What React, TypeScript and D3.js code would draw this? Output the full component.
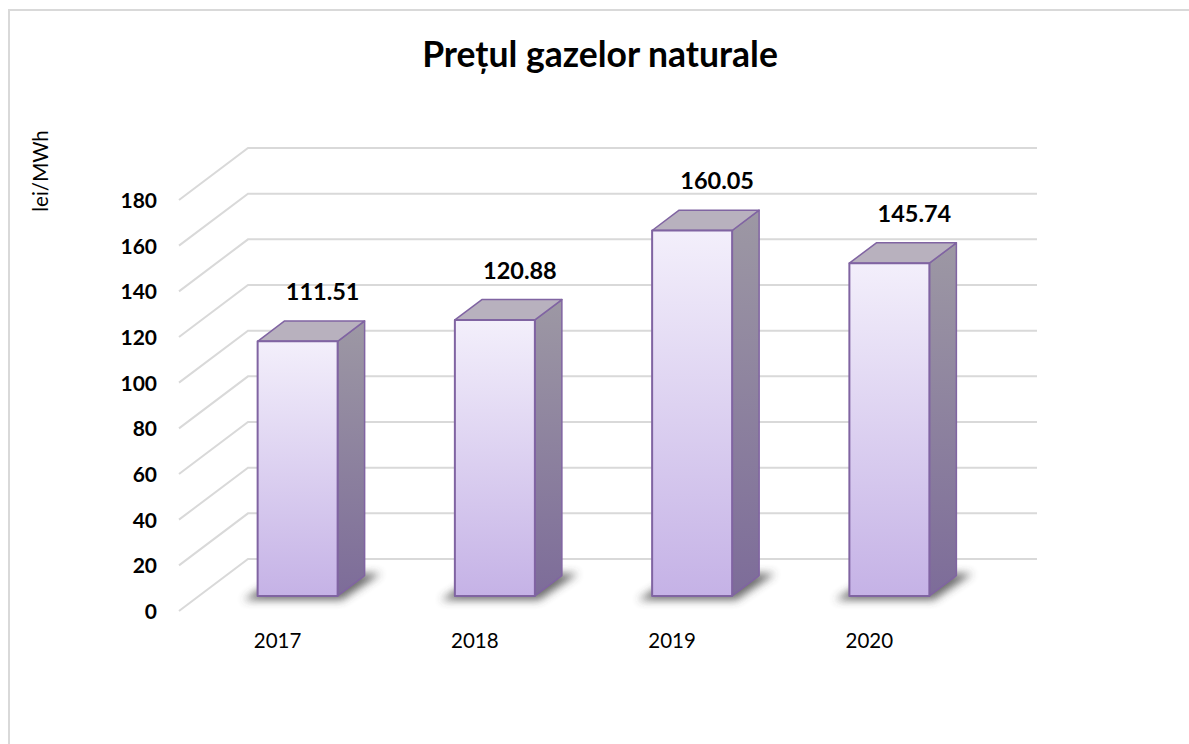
import React from "react";
import * as d3 from "d3";

const categories = ["2017", "2018", "2019", "2020"];
const values = [111.51, 120.88, 160.05, 145.74];
const valueLabels = ["111.51", "120.88", "160.05", "145.74"];
const yTicks = [0, 20, 40, 60, 80, 100, 120, 140, 160, 180];
const title = "Prețul gazelor naturale";
const yAxisTitle = "lei/MWh";

const W = 1189;
const H = 744;
const DEPTH_DX = 69;
const DEPTH_DY = -52;
const BAR_D0 = 20 / 69;
const BAR_D1 = 47 / 69;
const BAR_W = 80;

export default function App() {
  const x = d3.scaleBand<string>().domain(categories).range([179, 968]).paddingInner(0).paddingOuter(0);
  const y = d3.scaleLinear().domain([0, 180]).range([611, 200]);
  const proj = (px: number, v: number, d: number): [number, number] => [px + DEPTH_DX * d, y(v) + DEPTH_DY * d];
  const xLeft = x.range()[0];
  const xRight = x.range()[1];
  const font = "Lato, 'Liberation Sans', Arial, sans-serif";
  const pts = (a: [number, number][]) => a.map((p) => p.join(",")).join(" ");

  return (
    <svg width={W} height={H} style={{ position: "absolute", left: 0, top: 0, background: "#fff" }}>
      <defs>
        <linearGradient id="frontGrad" x1="0" y1="0" x2="0" y2="1">
          <stop offset="0" stopColor="#f3effb" />
          <stop offset="1" stopColor="#c5b2e6" />
        </linearGradient>
        <linearGradient id="sideGrad" x1="0" y1="0" x2="0" y2="1">
          <stop offset="0" stopColor="#9d98a4" />
          <stop offset="1" stopColor="#7d6c99" />
        </linearGradient>
        <filter id="shadowBlur" x="-50%" y="-50%" width="200%" height="200%">
          <feGaussianBlur stdDeviation="4" />
        </filter>
      </defs>
      <rect x={9} y={10} width={1300} height={900} fill="#fff" stroke="#d9d9d9" strokeWidth={2} />
      <text x={600} y={67} textAnchor="middle" fontFamily={font} fontWeight="bold" fontSize={35.5} fill="#000">
        {title}
      </text>
      <text
        transform={`translate(48,171) rotate(-90)`}
        textAnchor="middle"
        fontFamily={font}
        fontSize={20.5}
        fill="#000"
      >
        {yAxisTitle}
      </text>
      {yTicks.map((t) => {
        const f = proj(xLeft, t, 0);
        const b = proj(xLeft, t, 1);
        const br = proj(xRight, t, 1);
        return (
          <g key={t}>
            <polyline points={pts([f, b, br])} fill="none" stroke="#d9d9d9" strokeWidth={2} />
            <text
              x={157}
              y={y(t) + 8}
              textAnchor="end"
              fontFamily={font}
              fontWeight="bold"
              fontSize={21}
              fill="#000"
            >
              {t}
            </text>
          </g>
        );
      })}
      {categories.map((c, i) => {
        const cx = (x(c) as number) + x.bandwidth() / 2;
        const xl = cx - BAR_W / 2;
        const xr = cx + BAR_W / 2;
        const v = values[i];
        const fl0 = proj(xl, 0, BAR_D0);
        const fr0 = proj(xr, 0, BAR_D0);
        const flt = proj(xl, v, BAR_D0);
        const frt = proj(xr, v, BAR_D0);
        const bl0 = proj(xl, 0, BAR_D1);
        const br0 = proj(xr, 0, BAR_D1);
        const blt = proj(xl, v, BAR_D1);
        const brt = proj(xr, v, BAR_D1);
        const labelX = (blt[0] + brt[0]) / 2 - 2;
        const labelY = blt[1] - 21;
        const shadow: [number, number][] = [
          [fl0[0] - 14, fl0[1] + 4],
          [fr0[0] + 4, fr0[1] + 4],
          [br0[0] + 16, br0[1] - 2],
          [bl0[0], bl0[1] - 2],
        ];
        return (
          <g key={c}>
            <polygon points={pts(shadow)} fill="#3a3a3a" opacity={0.75} filter="url(#shadowBlur)" />
            <polygon points={pts([frt, brt, br0, fr0])} fill="url(#sideGrad)" stroke="#8064a2" strokeWidth={1.5} strokeLinejoin="round" />
            <polygon points={pts([flt, blt, brt, frt])} fill="#b8b1be" stroke="#8064a2" strokeWidth={1.5} strokeLinejoin="round" />
            <polygon points={pts([flt, frt, fr0, fl0])} fill="url(#frontGrad)" stroke="#8064a2" strokeWidth={2} strokeLinejoin="round" />
            <text x={labelX} y={labelY} textAnchor="middle" fontFamily={font} fontWeight="bold" fontSize={23.5} fill="#000">
              {valueLabels[i]}
            </text>
            <text x={cx} y={648} textAnchor="middle" fontFamily={font} fontSize={20.5} fill="#000">
              {c}
            </text>
          </g>
        );
      })}
    </svg>
  );
}
